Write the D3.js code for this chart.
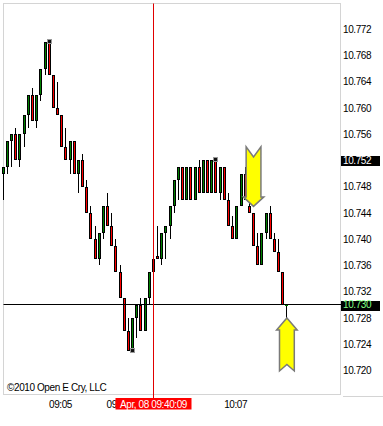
<!DOCTYPE html>
<html>
<head>
<meta charset="utf-8">
<script src="https://cdn.jsdelivr.net/npm/d3@7"></script>
<style>
	body { margin: 0; background: #fff; }
	svg text { font-family: "Liberation Sans", Arial, sans-serif; font-size: 10px; letter-spacing: -0.4px; }
</style>
</head>
<body>
<svg id="chart" width="383" height="426"></svg>
<script>
// =============================
// Range bar chart, 0.005 bars
// =============================

// OHLC, one entry per bar
const opens  = [10.750,10.751,10.755,10.756,10.752,10.756,10.759,10.762,10.758,10.762,
                10.766,10.770,10.765,10.760,10.759,10.754,10.752,10.755,10.750,10.752,
                10.748,10.744,10.740,10.737,10.741,10.745,10.742,10.739,10.735,10.731,
                10.726,10.723,10.728,10.730,10.726,10.731,10.735,10.7375,10.737,10.741,
                10.742,10.745,10.749,10.751,10.746,10.751,10.746,10.751,10.747,10.752,
                10.747,10.752,10.747,10.751,10.746,10.742,10.740,10.745,10.750,10.745,
                10.744,10.739,10.736,10.741,10.744,10.740,10.738,10.735,10.730];
const highs  = [10.751,10.755,10.756,10.757,10.756,10.759,10.762,10.763,10.762,10.766,
                10.770,10.770,10.765,10.764,10.759,10.757,10.755,10.755,10.752,10.753,
                10.749,10.745,10.742,10.741,10.745,10.747,10.744,10.740,10.736,10.731,
                10.728,10.728,10.730,10.731,10.731,10.735,10.740,10.742,10.741,10.742,
                10.745,10.749,10.751,10.751,10.751,10.751,10.751,10.752,10.752,10.752,
                10.752,10.752,10.751,10.751,10.747,10.7435,10.745,10.750,10.751,10.746,
                10.744,10.741,10.741,10.744,10.745,10.741,10.740,10.735,10.730];
const lows   = [10.746,10.750,10.751,10.752,10.751,10.754,10.757,10.758,10.757,10.761,
                10.765,10.765,10.760,10.759,10.754,10.752,10.750,10.750,10.747,10.748,
                10.744,10.740,10.737,10.736,10.740,10.742,10.739,10.735,10.731,10.726,
                10.723,10.723,10.725,10.726,10.726,10.730,10.735,10.737,10.736,10.737,
                10.740,10.744,10.746,10.746,10.746,10.746,10.746,10.747,10.747,10.747,
                10.747,10.747,10.746,10.746,10.742,10.740,10.740,10.745,10.746,10.744,
                10.739,10.736,10.736,10.740,10.740,10.738,10.735,10.730,10.728];
const closes = [10.751,10.755,10.756,10.752,10.756,10.759,10.762,10.758,10.762,10.766,
                10.770,10.765,10.760,10.759,10.754,10.752,10.755,10.750,10.752,10.748,
                10.744,10.740,10.737,10.741,10.745,10.742,10.739,10.735,10.731,10.726,
                10.723,10.728,10.730,10.726,10.731,10.735,10.737,10.737,10.741,10.742,
                10.745,10.749,10.751,10.746,10.751,10.746,10.751,10.747,10.752,10.747,
                10.752,10.747,10.751,10.746,10.742,10.740,10.745,10.750,10.746,10.744,
                10.739,10.736,10.741,10.744,10.740,10.738,10.735,10.730,10.730];

// Axis labels
const priceTicks = [10.720,10.724,10.728,10.732,10.736,10.740,10.744,10.748,10.752,10.756,10.760,10.764,10.768,10.772];
const timeLabels = ["09:05", "09:36", "10:07"];
const timeBars = [13.6, 27.4, 55.6]; // bar position of each time label

// Cursor, last price and markers
const cursorBar = 36;
const cursorTime = "Apr, 08 09:40:09";
const lastPrice = 10.730;
const boxedTick = 10.752;
const markerBars = [11, 31, 51];
const markerPrices = [10.770, 10.723, 10.752];
const arrowBars = [60, 68];
const arrowPrices = [10.745, 10.728];
const arrowDirs = ["down", "up"];

const svg = d3.select("#chart");
const plot = {left: 3.5, top: 3.5, right: 340.5, bottom: 394.5};

const bars = opens.map((o, i) => ({i: i, o: o, h: highs[i], l: lows[i], c: closes[i]}));

const x = d3.scaleLinear().domain([0, bars.length - 1]).range([3.3, 286.9]);
const y = d3.scaleLinear().domain([10.772, 10.720]).range([29.2, 370.45]);

const green = "#008000", red = "#ff0000";

// Plot frame
svg.append("rect")
	.attr("x", plot.left).attr("y", plot.top)
	.attr("width", plot.right - plot.left).attr("height", plot.bottom - plot.top)
	.attr("fill", "none").attr("stroke", "#d4d4d4");

svg.append("line")
	.attr("x1", 343).attr("x2", 383).attr("y1", 396.5).attr("y2", 396.5)
	.attr("stroke", "#d4d4d4");

// Candles
const col = i => Math.floor(x(i));

const candles = svg.append("g").selectAll("g")
	.data(bars)
	.enter()
	.append("g");

candles.append("line")
	.attr("x1", d => col(d.i) + 0.5).attr("x2", d => col(d.i) + 0.5)
	.attr("y1", d => Math.round(y(d.h))).attr("y2", d => Math.round(y(d.l)))
	.attr("stroke", "#000");

candles.each(function(d) {
	const g = d3.select(this);
	const top = Math.round(y(Math.max(d.o, d.c)));
	const bot = Math.round(y(Math.min(d.o, d.c)));
	if (d.o === d.c) {
		g.append("rect")
			.attr("x", col(d.i) - 1).attr("y", top - 1)
			.attr("width", 3).attr("height", 2)
			.attr("fill", green);
	} else {
		g.append("rect")
			.attr("x", col(d.i) - 0.5).attr("y", top + 0.5)
			.attr("width", 2).attr("height", Math.max(bot - top - 1, 1))
			.attr("fill", d.c > d.o ? green : red)
			.attr("stroke", "#000");
	}
});

// High / low markers
svg.append("g").selectAll("rect")
	.data(markerBars)
	.enter()
	.append("rect")
	.attr("x", d => col(d) - 1.5)
	.attr("y", (d, i) => Math.round(y(markerPrices[i])) - 2.5)
	.attr("width", 4).attr("height", 4)
	.attr("fill", "#111").attr("stroke", "#999");

// Crosshair
const cy = Math.floor(y(lastPrice)) + 0.5;
const cx = col(cursorBar) + 0.5;
svg.append("line")
	.attr("x1", plot.left).attr("x2", 341).attr("y1", cy).attr("y2", cy)
	.attr("stroke", "#000");
svg.append("line")
	.attr("x1", cx).attr("x2", cx).attr("y1", plot.top).attr("y2", 399)
	.attr("stroke", "#e00000");

// Arrows
function arrowPath(tx, ty, dir) {
	const s = dir === "down" ? -1 : 1;
	const hw = 10.3, sw = 7.4, head = dir === "down" ? 9.5 : 12,
		len = dir === "down" ? 59.5 : 53, notch = dir === "down" ? 49.5 : 46.5;
	const pts = [[tx, ty], [tx + hw, ty + s * head], [tx + sw, ty + s * head], [tx + sw, ty + s * len],
		[tx, ty + s * notch], [tx - sw, ty + s * len], [tx - sw, ty + s * head], [tx - hw, ty + s * head]];
	return "M" + pts.map(p => p.join(",")).join("L") + "Z";
}

svg.append("g").selectAll("path")
	.data(arrowBars)
	.enter()
	.append("path")
	.attr("d", (d, i) => arrowPath(x(d), y(arrowPrices[i]), arrowDirs[i]))
	.attr("fill", "#ffff00")
	.attr("stroke", "#7a7a7a")
	.attr("stroke-width", 1.5)
	.attr("stroke-linejoin", "miter");

// Price axis
svg.append("rect")
	.attr("x", 341).attr("y", Math.round(y(boxedTick)) - 4)
	.attr("width", 39).attr("height", 10)
	.attr("fill", "#000");

const yAxis = svg.append("g")
	.attr("transform", "translate(340,0)")
	.call(d3.axisRight(y).tickValues(priceTicks).tickFormat(d3.format(".3f")).tickSize(0).tickPadding(3));
yAxis.select(".domain").remove();
yAxis.selectAll("text")
	.attr("fill", d => Math.abs(d - boxedTick) < 1e-9 ? "#fff" : "#000")
	.style("font-size", "10px")
	.style("font-family", "'Liberation Sans', Arial, sans-serif");

// Last price box
svg.append("rect")
	.attr("x", 341).attr("y", Math.round(y(lastPrice)) - 4)
	.attr("width", 39).attr("height", 10)
	.attr("fill", "#000");
svg.append("text")
	.attr("x", 343).attr("y", y(lastPrice)).attr("dy", "0.35em")
	.attr("fill", "#80ff80")
	.text(d3.format(".3f")(lastPrice));

// Time axis
const xAxis = svg.append("g")
	.attr("transform", "translate(0,396)")
	.call(d3.axisBottom(x).tickValues(timeBars).tickFormat((d, i) => timeLabels[i]).tickSize(0).tickPadding(4.5));
xAxis.select(".domain").remove();
xAxis.selectAll("text")
	.attr("fill", "#000")
	.style("font-size", "10px")
	.style("font-family", "'Liberation Sans', Arial, sans-serif");

// Cursor time box
svg.append("rect")
	.attr("x", cx - 38).attr("y", 398)
	.attr("width", 76).attr("height", 11.5)
	.attr("fill", "#ff0000");
svg.append("text")
	.attr("x", cx).attr("y", 407.7)
	.attr("text-anchor", "middle")
	.attr("fill", "#fff")
	.text(cursorTime);

// Copyright
svg.append("text")
	.attr("x", 7).attr("y", 390.5)
	.attr("fill", "#000")
	.text("\u00a92010 Open E Cry, LLC");
</script>
</body>
</html>
